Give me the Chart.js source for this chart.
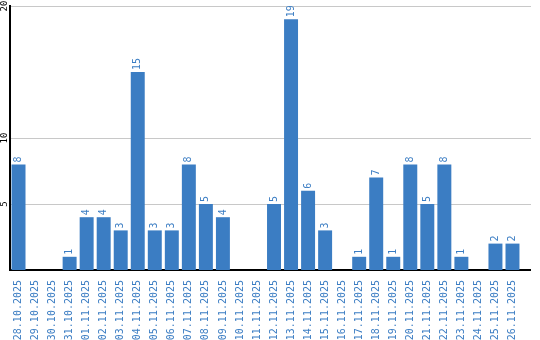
<!DOCTYPE html>
<html>
<head>
<meta charset="utf-8">
<script src="https://cdn.jsdelivr.net/npm/chart.js"></script>
<style>
  body { margin: 0; background: #fff; }
  canvas { display: block; }
</style>
</head>
<body>
<canvas id="myChart" width="540" height="340"></canvas>
<script>
const dateLabels = [
  '28.10.2025', '29.10.2025', '30.10.2025', '31.10.2025', '01.11.2025',
  '02.11.2025', '03.11.2025', '04.11.2025', '05.11.2025', '06.11.2025',
  '07.11.2025', '08.11.2025', '09.11.2025', '10.11.2025', '11.11.2025',
  '12.11.2025', '13.11.2025', '14.11.2025', '15.11.2025', '16.11.2025',
  '17.11.2025', '18.11.2025', '19.11.2025', '20.11.2025', '21.11.2025',
  '22.11.2025', '23.11.2025', '24.11.2025', '25.11.2025', '26.11.2025'
];
const counts = [8, 0, 0, 1, 4, 4, 3, 15, 3, 3, 8, 5, 4, 0, 0, 5, 19, 6, 3, 0, 1, 7, 1, 8, 5, 8, 1, 0, 2, 2];
const yTicks = [5, 10, 20];
const yMax = 20;

const barColor = '#3b7dc3';
const gridColor = '#c8c8c8';
const monoFont = '"DejaVu Sans Mono", "Liberation Mono", monospace';
const tailWidth = 10; // grid + axis run on past the last bar

// value above each bar, rotated like the x labels
const valueLabels = {
  id: 'valueLabels',
  afterDatasetsDraw(chart) {
    const ctx = chart.ctx;
    const meta = chart.getDatasetMeta(0);
    ctx.save();
    ctx.fillStyle = barColor;
    ctx.font = '10px ' + monoFont;
    ctx.textAlign = 'left';
    ctx.textBaseline = 'middle';
    meta.data.forEach((bar, i) => {
      const v = counts[i];
      if (!v) return;
      ctx.save();
      ctx.translate(bar.x, bar.y - 2);
      ctx.rotate(-Math.PI / 2);
      ctx.fillText(String(v), 0, 0);
      ctx.restore();
    });
    ctx.restore();
  }
};

// y tick labels, rotated, left of the axis; also the grid/axis tail on the right
const axisExtras = {
  id: 'axisExtras',
  afterDraw(chart) {
    const ctx = chart.ctx;
    const y = chart.scales.y;
    const area = chart.chartArea;
    ctx.save();
    ctx.fillStyle = gridColor;
    yTicks.forEach(t => {
      const py = Math.round(y.getPixelForValue(t));
      ctx.fillRect(area.right, py, tailWidth, 1);
    });
    ctx.fillStyle = '#000';
    ctx.fillRect(area.right - 1, Math.round(area.bottom) - 1, tailWidth + 1, 2);

    ctx.font = '9px ' + monoFont;
    ctx.textAlign = 'center';
    ctx.textBaseline = 'middle';
    yTicks.forEach(t => {
      ctx.save();
      ctx.translate(4.5, Math.max(y.getPixelForValue(t), 6));
      ctx.rotate(-Math.PI / 2);
      ctx.fillText(String(t), 0, 0);
      ctx.restore();
    });
    ctx.restore();
  }
};

const ctx = document.getElementById('myChart').getContext('2d');
new Chart(ctx, {
  type: 'bar',
  data: {
    labels: dateLabels,
    datasets: [{
      data: counts,
      backgroundColor: barColor,
      borderWidth: 0,
      barPercentage: 0.82,
      categoryPercentage: 1
    }]
  },
  options: {
    responsive: false,
    animation: false,
    layout: { padding: { top: 6, left: 10, right: 9 + tailWidth, bottom: 0 } },
    plugins: {
      legend: { display: false },
      tooltip: { enabled: false }
    },
    scales: {
      x: {
        afterFit: scale => { scale.height = 70; },
        grid: { display: false },
        border: { color: '#000', width: 2 },
        ticks: {
          color: barColor,
          font: { family: monoFont, size: 10 },
          minRotation: 90,
          maxRotation: 90,
          autoSkip: false,
          padding: 2
        }
      },
      y: {
        min: 0,
        max: yMax,
        afterBuildTicks: scale => {
          scale.ticks = yTicks.map(v => ({ value: v }));
        },
        grid: { color: gridColor, drawTicks: false, lineWidth: 1 },
        border: { color: '#000', width: 2 },
        ticks: { display: false }
      }
    }
  },
  plugins: [valueLabels, axisExtras]
});
</script>
</body>
</html>
